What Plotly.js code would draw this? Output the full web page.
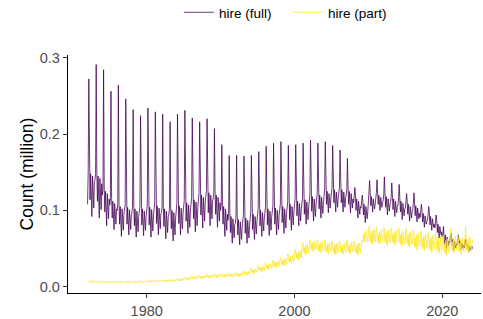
<!DOCTYPE html>
<html>
<head>
<meta charset="utf-8">
<script src="https://cdn.plot.ly/plotly-3.0.1.min.js"></script>
<style>html,body{margin:0;padding:0;background:#fff;}#chart{width:483px;height:319px;}</style>
</head>
<body>
<div id="chart"></div>
<script>
// Monthly values in thousands, starting January 1972
var startYear = 1972;
var seriesNames = ["hire (full)", "hire (part)"];
var xTicks = [1980, 2000, 2020];
var yTicks = [0.0, 0.1, 0.2, 0.3];

var full1970s = [
108,151,272,153,114,148,109,92,145,120,103,138,
140,148,291,150,112,145,106,90,142,117,101,135,
120,128,284,130,98,125,94,80,122,102,89,115,
107,115,256,117,90,112,86,75,109,94,82,102,
100,108,264,110,82,105,78,66,102,86,74,95,
99,107,246,109,82,104,79,68,101,86,75,94,
97,105,232,107,80,102,76,65,99,84,72,92,
97,105,224,107,81,102,78,67,99,85,74,92];
var full1980s = [
99,107,234,109,81,104,77,65,101,85,73,94,
101,109,229,111,83,106,79,68,103,87,76,96,
97,105,226,107,79,102,75,63,99,83,71,92,
95,103,216,105,76,100,72,60,97,80,68,90,
101,109,226,111,83,106,79,68,103,87,76,96,
105,113,231,115,86,110,82,70,107,90,78,100,
109,117,221,119,89,114,85,72,111,93,80,104,
115,123,216,125,94,120,90,77,117,99,86,110,
118,126,220,128,97,123,93,80,120,102,89,113,
115,123,207,125,95,120,91,78,117,99,86,110];
var full1990s = [
100,108,186,110,82,105,78,66,102,86,74,95,
87,95,172,97,71,92,68,57,89,75,64,82,
83,91,172,93,68,88,65,55,85,72,62,78,
85,93,171,95,70,90,67,57,87,74,64,80,
90,98,172,100,75,95,72,62,92,79,69,85,
95,103,177,105,80,100,76,66,97,83,73,90,
97,105,184,107,81,102,78,67,99,85,74,92,
98,106,188,108,82,103,79,68,100,86,75,93,
100,108,190,110,84,105,81,70,102,88,77,95,
103,111,185,113,88,108,84,74,105,91,81,98];
var full2000s = [
107,115,186,117,93,112,90,80,109,96,86,102,
109,117,188,119,95,114,92,82,111,98,88,104,
113,121,192,123,99,118,96,86,115,102,92,108,
115,123,188,125,102,120,99,90,117,105,96,110,
120,128,190,130,108,125,105,97,122,111,103,115,
122,130,185,132,110,127,107,98,124,112,104,117,
122,130,179,132,110,127,107,98,124,112,104,117,
120,128,168,130,108,125,105,97,122,111,103,115,
110,118,130,120,100,115,97,90,112,102,95,105,
103,111,120,113,94,108,91,84,105,96,89,98];
var full2010s = [
113,121,139,123,106,118,104,98,115,108,102,108,
115,123,140,125,108,120,106,100,117,110,104,110,
113,121,144,123,104,118,101,94,115,106,99,108,
110,118,136,120,101,115,99,92,112,104,97,105,
107,115,134,117,98,112,95,88,109,100,93,102,
103,111,122,113,95,108,93,86,105,97,90,98,
101,109,123,111,93,106,91,85,103,95,89,96,
91,99,108,101,85,96,83,78,93,87,82,86,
87,95,105,97,81,92,79,74,89,83,78,82,
77,85,94,87,71,82,69,64,79,73,68,72];
var full2020s = [
65,70,79,62,55,68,53,50,65,59,54,60,
57,65,70,64,54,62,52,48,59,55,51,56,
55,63,68,62,53,60,52,48,57,54,50,54,
51,59,62,58,50,56,49,46,53,51,48,51,
53,50];

var part1970s = [
7.0,8.3,8.0,6.3,7.3,6.0,7.6,5.8,7.4,7.9,6.6,6.1,
6.8,8.2,7.9,6.4,7.1,6.1,7.5,5.9,7.3,7.8,6.5,6.2,
6.5,7.7,7.5,5.8,6.7,5.5,7.1,5.3,6.9,7.4,6.1,5.6,
6.4,7.8,7.4,5.7,6.8,5.5,7.0,5.4,6.8,7.5,6.0,5.7,
6.5,7.7,7.6,5.8,6.7,5.4,7.2,5.3,6.9,7.3,6.1,5.6,
6.6,7.8,7.5,5.8,6.8,5.5,7.1,5.3,6.9,7.4,6.2,5.7,
6.5,7.8,7.5,5.7,6.7,5.5,7.1,5.2,6.9,7.4,6.1,5.6,
7.0,8.3,8.0,6.3,7.2,6.0,7.6,5.8,7.4,7.9,6.6,6.1];
var part1980s = [
7.5,9.0,8.7,6.6,7.8,6.3,8.2,6.0,8.0,8.5,7.0,6.4,
7.6,9.0,8.6,6.7,7.8,6.3,8.3,6.1,7.9,8.6,7.1,6.5,
8.0,9.5,9.2,7.1,8.3,6.8,8.8,6.5,8.4,9.0,7.5,6.9,
8.5,10.0,9.7,7.6,8.8,7.3,9.2,7.0,9.0,9.6,8.0,7.5,
9.5,11.2,10.9,8.4,9.8,8.1,10.4,7.8,10.0,10.7,9.0,8.3,
11.0,13.0,12.6,9.8,11.4,9.4,12.0,9.0,11.6,12.4,10.4,9.6,
12.0,14.0,13.6,10.8,12.4,10.4,13.0,10.0,12.6,13.4,11.4,10.6,
13.0,15.3,14.8,11.7,13.5,11.2,14.1,10.8,13.7,14.6,12.3,11.4,
14.0,16.5,16.0,12.5,14.5,12.0,15.3,11.5,14.8,15.8,13.3,12.3,
14.5,17.0,16.5,13.0,15.0,12.5,15.8,12.0,15.3,16.3,13.8,12.8];
var part1990s = [
15.0,17.5,17.0,13.5,15.5,13.0,16.3,12.5,15.8,16.8,14.3,13.3,
15.5,18.0,17.5,14.0,16.0,13.5,16.8,13.0,16.3,17.3,14.8,13.8,
16.0,18.5,18.0,14.5,16.5,14.0,17.3,13.5,16.8,17.8,15.3,14.3,
18.0,21.0,20.4,16.2,18.6,15.6,19.5,15.0,18.9,20.1,17.1,15.9,
21.0,24.5,23.8,18.9,21.7,18.2,22.8,17.5,22.1,23.5,20.0,18.6,
24,28,27.2,21.6,24.8,20.8,26,20,25.2,26.8,22.8,21.2,
27,31.5,30.6,24.3,27.9,23.4,29.3,22.5,28.4,30.2,25.7,23.9,
30,35,34,27,31,26,32.5,25,31.5,33.5,28.5,26.5,
33,38.5,37.4,29.7,34.1,28.6,35.8,27.5,34.7,36.9,31.4,29.2,
37,43,41.8,33.4,38.2,32.2,40,31,38.8,41.2,35.2,32.8];
var part2000s = [
42,49,47.6,37.8,43.4,36.4,45.5,35,44.1,46.9,39.9,37.1,
50,58,56.4,45.2,51.6,43.6,54,42,52.4,55.6,47.6,44.4,
54,62,60.4,49.2,55.6,47.6,58,46,56.4,59.6,51.6,48.4,
53,62,60.2,47.6,54.8,45.8,57.5,44,55.7,59.3,50.3,46.7,
52,61,59.2,46.6,53.8,44.8,56.5,43,54.7,58.3,49.3,45.7,
51,60,58.2,45.6,52.8,43.8,55.5,42,53.7,57.3,48.3,44.7,
51.5,59.5,58.5,46,52.5,44,55,42.5,54,57,48.5,45,
52,61,59.2,46.6,53.8,44.8,56.5,43,54.7,58.3,49.3,45.7,
51,60,58.2,45.6,52.8,43.8,55.5,42,53.7,57.3,48.3,44.7,
52,61,59,60,68,59,71,58,69,74,63,59];
var part2010s = [
67,79,76.6,59.8,69.4,57.4,73,55,70.6,75.4,63.4,58.6,
66,78,76,60,69,58,72,56,70,75,63,59,
66,78,75.6,58.8,68.4,56.4,72,54,69.6,74.4,62.4,57.6,
65,77,75,59,68,57,71,55,69,74,62,58,
65,77,74.6,57.8,67.4,55.4,71,53,68.6,73.4,61.4,56.6,
64,76,73.6,56.8,66.4,54.4,70,52,67.6,72.4,60.4,55.6,
61,74,71.4,53.2,63.6,50.6,67.5,48,64.9,70.1,57.1,51.9,
60,73,70.4,52.2,62.6,49.6,66.5,47,63.9,69.1,56.1,50.9,
58,71,68.4,50.2,60.6,47.6,64.5,45,61.9,67.1,54.1,48.9,
57,70,67.4,49.2,59.6,46.6,63.5,44,60.9,66.1,53.1,47.9];
var part2020s = [
54,67,64.4,46.2,56.6,43.6,60.5,41,57.9,63.1,50.1,44.9,
57,70,77,49,59,47,64,44,61,66,53,48,
55,68,65,47,57,45,62,42,59,64,51,46,
57,70,79,49,59,47,63,44,60,65,52,47,
55,62];

var fullK = [].concat(full1970s, full1980s, full1990s, full2000s, full2010s, full2020s);
var partK = [].concat(part1970s, part1980s, part1990s, part2000s, part2010s, part2020s);

function monthTimes(n) {
  var t = [];
  for (var i = 0; i < n; i++) t.push(startYear + i / 12);
  return t;
}
function toMillion(a) { return a.map(function (v) { return v / 1000; }); }

var font = "Liberation Sans, Arial, Helvetica, sans-serif";
var traces = [
  { x: monthTimes(fullK.length), y: toMillion(fullK), type: "scatter", mode: "lines",
    name: seriesNames[0], line: { color: "rgba(68,1,84,0.78)", width: 1 } },
  { x: monthTimes(partK.length), y: toMillion(partK), type: "scatter", mode: "lines",
    name: seriesNames[1], line: { color: "rgba(253,231,37,0.8)", width: 1 } }
];

var layout = {
  width: 483, height: 319,
  margin: { l: 68, r: 2, t: 55, b: 26, autoexpand: false },
  paper_bgcolor: "#fff", plot_bgcolor: "#fff",
  font: { family: font, size: 13, color: "#000" },
  showlegend: true,
  legend: { orientation: "h", xref: "container", x: 179 / 483, xanchor: "left",
            yref: "container", y: 1 - 12.5 / 319, yanchor: "middle",
            entrywidth: 64, entrywidthmode: "pixels",
            font: { family: font, size: 13.5, color: "#000" }, bgcolor: "rgba(0,0,0,0)" },
  xaxis: {
    range: [1969.35, 2025.24], tickvals: xTicks, ticktext: xTicks.map(String),
    showgrid: false, zeroline: false, showline: true, linecolor: "#000", linewidth: 1.3,
    ticks: "outside", ticklen: 4, tickwidth: 1, tickcolor: "#333",
    tickfont: { family: font, size: 14.5, color: "#4d4d4d" }
  },
  yaxis: {
    range: [-0.0081, 0.3034], tickvals: yTicks, ticktext: yTicks.map(function (v) { return v.toFixed(1); }),
    showgrid: false, zeroline: false, showline: true, linecolor: "#000", linewidth: 1.3,
    ticks: "outside", ticklen: 4, tickwidth: 1, tickcolor: "#333",
    tickfont: { family: font, size: 14.5, color: "#4d4d4d" },
    title: { text: "Count (million)", font: { family: font, size: 17.5, color: "#000" }, standoff: 1 }
  }
};

Plotly.newPlot("chart", traces, layout, { displayModeBar: false, staticPlot: true });
</script>
</body>
</html>
